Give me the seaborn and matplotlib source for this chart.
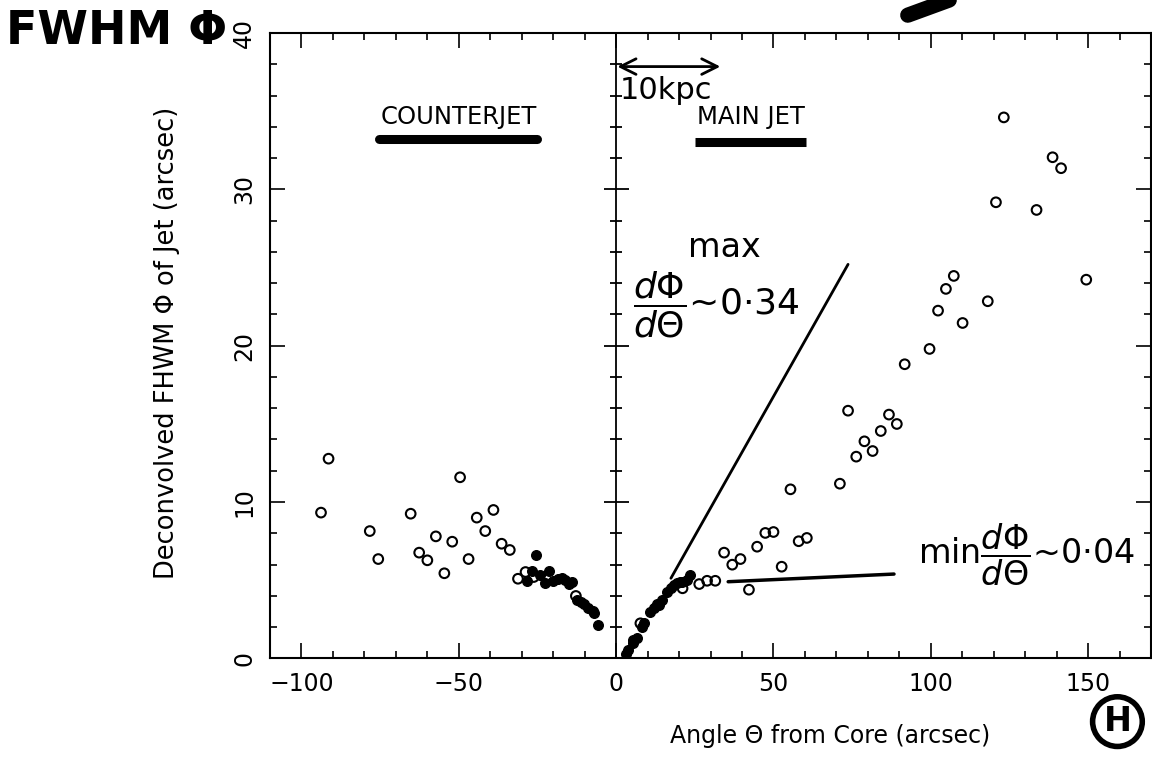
import numpy as np
import matplotlib.pyplot as plt
import seaborn as sns
from matplotlib.lines import Line2D

# Counterjet (negative angles)
cj_open_x = [-93.8, -91.4, -78.3, -75.6, -65.3, -62.6, -60.0, -57.3, -54.6, -52.1, -49.6,
             -46.9, -44.3, -41.6, -39.0, -36.4, -33.8, -31.2, -28.8, -26.2, -12.8]
cj_open_y = [9.32, 12.77, 8.14, 6.35, 9.25, 6.76, 6.27, 7.8, 5.44, 7.46, 11.58,
             6.35, 9.0, 8.14, 9.49, 7.33, 6.93, 5.09, 5.52, 5.2, 3.99]
cj_fill_x = [-25.6, -28.2, -26.9, -24.1, -22.7, -21.3, -20.0, -18.6, -17.3, -16.3, -15.1,
             -14.0, -12.4, -11.3, -10.1, -8.8, -7.4, -6.9, -5.8]
cj_fill_y = [6.63, 4.95, 5.57, 5.31, 4.84, 5.59, 4.93, 5.05, 5.12, 5.01, 4.75,
             4.86, 3.71, 3.62, 3.45, 3.2, 3.03, 2.88, 2.11]

# Main jet (positive angles)
mj_fill_x = [3.0, 3.9, 5.2, 5.5, 6.6, 8.2, 9.0, 10.9, 12.0, 12.9, 13.5, 14.6, 16.2,
             17.3, 18.3, 19.4, 20.2, 21.0, 22.5, 23.6]
mj_fill_y = [0.3, 0.53, 0.96, 1.17, 1.28, 1.98, 2.24, 2.98, 3.2, 3.47, 3.41, 3.73, 4.26,
             4.48, 4.69, 4.8, 4.88, 4.9, 5.01, 5.33]
mj_open_x = [7.7, 21.1, 26.4, 28.9, 31.5, 34.3, 36.9, 39.5, 42.2, 44.8, 47.4, 50.0, 52.6,
             55.4, 58.0, 60.6, 71.1, 73.7, 76.3, 78.9, 81.5, 84.1, 86.7, 89.2, 91.7,
             99.6, 102.3, 104.8, 107.3, 110.1, 118.1, 120.7, 123.2, 133.6, 138.7, 141.4,
             149.4]
mj_open_y = [2.24, 4.48, 4.75, 4.96, 4.96, 6.76, 5.99, 6.35, 4.39, 7.14, 8.02, 8.08, 5.86,
             10.81, 7.49, 7.7, 11.17, 15.84, 12.9, 13.88, 13.26, 14.54, 15.59, 14.99, 18.81,
             19.79, 22.24, 23.63, 24.46, 21.45, 22.84, 29.17, 34.6, 28.68, 32.05, 31.35,
             24.22]

# hand-drawn slope lines
max_line_x = [17.4, 73.7]
max_line_y = [5.12, 25.2]
min_line_x = [35.6, 88.3]
min_line_y = [4.9, 5.39]

sns.set_style("ticks")
plt.rcParams['font.family'] = ['DejaVu Sans']
plt.rcParams['mathtext.fontset'] = 'dejavusans'
plt.rcParams['text.color'] = 'black'
plt.rcParams['axes.labelcolor'] = 'black'
plt.rcParams['xtick.color'] = 'black'
plt.rcParams['ytick.color'] = 'black'

fig = plt.figure(figsize=(11.52, 7.58), dpi=100)
ax = fig.add_axes([0.2344, 0.1315, 0.7648, 0.825])

sns.scatterplot(x=cj_fill_x, y=cj_fill_y, ax=ax, s=48, color='black', edgecolor='black', linewidth=1)
sns.scatterplot(x=mj_fill_x, y=mj_fill_y, ax=ax, s=48, color='black', edgecolor='black', linewidth=1)
sns.scatterplot(x=cj_open_x, y=cj_open_y, ax=ax, s=48, color='none', edgecolor='black', linewidth=1.5)
sns.scatterplot(x=mj_open_x, y=mj_open_y, ax=ax, s=48, color='none', edgecolor='black', linewidth=1.5)

ax.plot(max_line_x, max_line_y, color='black', lw=2)
ax.plot(min_line_x, min_line_y, color='black', lw=2.5)

ax.set_xlim(-110, 170)
ax.set_ylim(0, 40)
ax.set_xticks([-100, -50, 0, 50, 100, 150])
ax.set_xticks(np.arange(-110, 171, 10), minor=True)
ax.set_yticks([0, 10, 20, 30, 40])
ax.set_yticks(np.arange(0, 41, 2), minor=True)
ax.tick_params(which='both', direction='in', top=True, right=True, width=1.2, colors='black')
ax.tick_params(which='major', length=11, labelsize=17)
ax.tick_params(which='minor', length=5)
ax.tick_params(axis='x', pad=10)
ax.tick_params(axis='y', pad=10)
for lab in ax.get_yticklabels():
    lab.set_rotation(90)
    lab.set_va('center')
for s in ax.spines.values():
    s.set_linewidth(1.5)
    s.set_color('black')

# central axis at zero with crossing ticks
ax.axvline(0, color='black', lw=1.3)
y_major = [10, 20, 30]
y_minor = [v for v in np.arange(2, 40, 2) if v % 10 != 0]
ax.plot(np.zeros(len(y_major)), y_major, ls='none', marker='_', ms=18, mew=1.3, color='black')
ax.plot(np.zeros(len(y_minor)), y_minor, ls='none', marker='_', ms=9, mew=1.3, color='black')

ax.set_xlabel('Angle Θ from Core (arcsec)', fontsize=17, labelpad=24)
ax.xaxis.set_label_coords(0.636, -0.105)
ax.set_ylabel('Deconvolved FHWM Φ of Jet (arcsec)', fontsize=18.5)
ax.yaxis.set_label_coords(-0.102, 0.505)

# region labels with thick bars
ax.text(-50, 34.6, 'COUNTERJET', fontsize=17.5, ha='center', va='center')
ax.plot([-75.4, -25.2], [33.2, 33.2], color='black', lw=6.5, solid_capstyle='round')
ax.text(42.8, 34.6, 'MAIN JET', fontsize=17.5, ha='center', va='center')
ax.plot([25.2, 60.4], [33.05, 33.05], color='black', lw=6.5, solid_capstyle='butt')

# scale bar
ax.annotate('', xy=(-0.5, 37.85), xytext=(34, 37.85),
            arrowprops=dict(arrowstyle='<->', lw=2, mutation_scale=28, color='black'))
ax.text(1, 36.3, '10kpc', fontsize=22, ha='left', va='center')

# slope annotations
ax.text(34.5, 26.3, 'max', fontsize=24, ha='center', va='center')
ax.text(5.5, 22.6, r'$\dfrac{d\Phi}{d\Theta}$~0·34', fontsize=26, ha='left', va='center')
ax.text(96, 6.6, r'min$\dfrac{d\Phi}{d\Theta}$~0·04', fontsize=24, ha='left', va='center')

# handwritten marks outside the axes
fig.text(0.005, 0.958, 'FWHM Φ', fontsize=33, fontweight='bold', ha='left', va='center')
fig.text(0.970, 0.048, 'H', fontsize=24, fontweight='bold', ha='center', va='center',
         bbox=dict(boxstyle='circle,pad=0.25', fc='white', ec='black', lw=4))
fig.add_artist(Line2D([0.824, 0.788], [1.0, 0.98], color='black', lw=11,
                      solid_capstyle='round', transform=fig.transFigure))

fig.savefig('out.png', dpi=100)
